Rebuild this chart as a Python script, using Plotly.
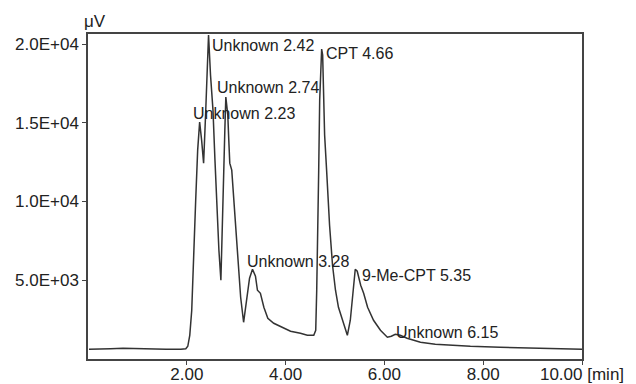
import plotly.graph_objects as go

# Chromatogram trace (time in min, signal in µV)
time_min = [0.02, 0.26, 0.46, 0.71, 0.97, 1.27, 1.58, 1.88, 1.98, 2.02, 2.06, 2.10, 2.14, 2.18,
            2.22, 2.26, 2.30, 2.34, 2.38, 2.42, 2.44, 2.48, 2.53, 2.57, 2.61, 2.65, 2.69, 2.73,
            2.77, 2.79, 2.83, 2.85, 2.87, 2.91, 2.95, 2.99, 3.05, 3.09, 3.15, 3.21, 3.27, 3.33,
            3.39, 3.43, 3.49, 3.56, 3.64, 3.76, 3.90, 4.10, 4.30, 4.44, 4.57, 4.61, 4.63, 4.65,
            4.67, 4.69, 4.71, 4.73, 4.75, 4.77, 4.79, 4.83, 4.89, 4.95, 5.01, 5.07, 5.17, 5.25,
            5.31, 5.35, 5.39, 5.41, 5.45, 5.52, 5.58, 5.66, 5.78, 5.92, 6.06, 6.14, 6.22, 6.32,
            6.46, 6.73, 7.03, 7.33, 7.74, 8.34, 8.95, 9.56, 10.0]
signal_uv = [616, 616, 648, 680, 648, 616, 616, 616, 648, 807, 1506, 3095, 6083, 10087,
             13265, 15045, 13900, 12438, 15490, 18985, 20574, 18032, 15808, 12629, 9452, 6909, 5002, 10723,
             14536, 16634, 15490, 13900, 12438, 11993, 10087, 8180, 5637, 3921, 2332, 3730, 5129, 5701,
             5256, 4366, 4175, 3286, 2587, 2269, 2078, 1760, 1633, 1506, 1506, 1824, 4366, 7544,
             11993, 16443, 18985, 19684, 19303, 16634, 14219, 11993, 8498, 5955, 4366, 3286, 2269, 1506,
             2460, 3731, 5256, 5701, 5574, 4684, 4175, 3286, 2460, 1824, 1379, 1443, 1570, 1506,
             1316, 1061, 934, 871, 807, 744, 680, 648, 616]

# Peak labels
peak_labels = ["Unknown 2.42", "Unknown 2.74", "Unknown 2.23", "CPT 4.66",
               "Unknown 3.28", "9-Me-CPT 5.35", "Unknown 6.15"]
label_x = [2.53, 2.63, 2.14, 4.83, 3.23, 5.56, 6.26]
label_y = [19940, 17270, 15617, 19430, 6210, 5320, 1696]

# Axis ticks
x_tickvals = [2, 4, 6, 8, 10]
x_ticktext = ["2.00", "4.00", "6.00", "8.00", "10.00 [min]"]
y_tickvals = [5000, 10000, 15000, 20000]
y_ticktext = ["5.0E+03", "1.0E+04", "1.5E+04", "2.0E+04"]

FONT = "Liberation Sans, Arial, Helvetica, sans-serif"
INK = "#222222"

fig = go.Figure()
fig.add_trace(go.Scatter(x=time_min, y=signal_uv, mode="lines",
                         line=dict(color="#333333", width=1.5), hoverinfo="skip",
                         showlegend=False))

for txt, lx, ly in zip(peak_labels, label_x, label_y):
    fig.add_annotation(x=lx, y=ly, text=txt, showarrow=False, xanchor="left",
                       yanchor="middle", xshift=-3,
                       font=dict(family=FONT, size=16, color=INK))

fig.add_annotation(x=0, y=1, xref="paper", yref="paper", text="μV", showarrow=False,
                   xanchor="left", yanchor="bottom", xshift=-6, yshift=1,
                   font=dict(family=FONT, size=17, color=INK))

axis_common = dict(showgrid=False, zeroline=False, showline=True, linecolor="#444444",
                   linewidth=1.5, mirror=True, ticks="outside", ticklen=4, tickwidth=1,
                   tickcolor="#444444", tickfont=dict(family=FONT, size=17, color=INK),
                   automargin=False)

fig.update_xaxes(range=[0, 10], tickvals=x_tickvals, ticktext=x_ticktext,
                 ticklabelstandoff=-5, **axis_common)
fig.update_yaxes(range=[0, 20640], tickvals=y_tickvals, ticktext=y_ticktext, **axis_common)

fig.update_layout(width=636, height=384, autosize=False,
                  margin=dict(l=88, r=54, t=34, b=25),
                  plot_bgcolor="white", paper_bgcolor="white",
                  font=dict(family=FONT, color=INK))

fig.write_html(
    "out.html",
    config={"responsive": False, "displayModeBar": False},
    post_script="document.body.style.margin='0px';document.documentElement.style.overflow='hidden';",
)
